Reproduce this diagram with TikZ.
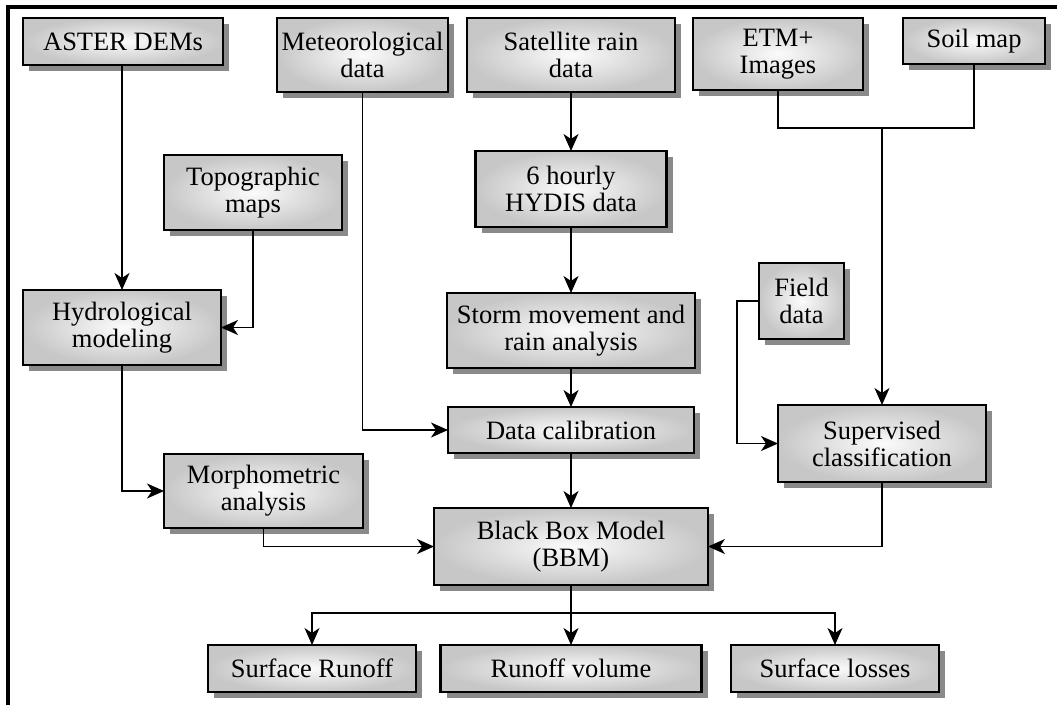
\documentclass[tikz,border=0pt]{standalone}
\usepackage{fontspec}
\setmainfont{Liberation Serif}
\usetikzlibrary{arrows.meta,shadows}

\tikzset{
	block/.style={draw, line width=2.4pt, inner sep=0pt, outer sep=0pt, align=center,
		inner color=white!97!gray, outer color=black!22,
		drop shadow={shadow xshift=6pt, shadow yshift=-6pt, fill=black!65, opacity=0.7},
		font=\fontsize{26.5}{27}\selectfont},
	arr/.style={line width=1.9pt, -{Stealth[length=17pt, width=15pt, inset=5pt]}},
	link/.style={line width=1.9pt}
}

\begin{document}
\begin{tikzpicture}[x=1pt, y=-1pt]
	\useasboundingbox (0,0) rectangle (1057,705);
	\fill[white] (0,0) rectangle (1057,705);
	\draw[line width=4pt] (8,705) -- (8,7) -- (1057,7);
	\begin{scope} [every node/.style={block}]
		\node[minimum width=200pt, minimum height=47pt] (aster) at (123,41.5){ASTER DEMs};
		\node[minimum width=171pt, minimum height=74pt] (meteo) at (362.5,55){Meteorological\\data};
		\node[minimum width=208pt, minimum height=74pt] (satrain) at (571,55){Satellite rain\\data};
		\node[minimum width=170pt, minimum height=72pt] (etm) at (778,54){ETM+\\Images};
		\node[minimum width=142pt, minimum height=46pt] (soil) at (974,41){Soil map};
		\node[minimum width=178pt, minimum height=75pt] (topo) at (253,192.5){Topographic\\maps};
		\node[minimum width=191pt, minimum height=76pt] (hydis) at (571,189){6 hourly\\HYDIS data};
		\node[minimum width=198pt, minimum height=75pt] (hydro) at (122,327.5){Hydrological\\modeling};
		\node[minimum width=248pt, minimum height=75pt] (storm) at (571,330.5){Storm movement and\\rain analysis};
		\node[minimum width=85pt, minimum height=76pt] (field) at (801.5,301){Field\\data};
		\node[minimum width=246pt, minimum height=46pt] (calib) at (571,430){Data calibration};
		\node[minimum width=208pt, minimum height=77pt] (superv) at (882,443.5){Supervised\\classification};
		\node[minimum width=199pt, minimum height=74pt] (morph) at (263.5,491){Morphometric\\analysis};
		\node[minimum width=274pt, minimum height=77pt] (bbm) at (571,546.5){Black Box Model\\(BBM)};
		\node[minimum width=208pt, minimum height=47pt] (runoff) at (312,668.5){Surface Runoff};
		\node[minimum width=261pt, minimum height=47pt] (volume) at (571,668.5){Runoff volume};
		\node[minimum width=208pt, minimum height=47pt] (losses) at (835,668.5){Surface losses};
	\end{scope}
	\coordinate (merge) at (882,128);
	\coordinate (split) at (571,613);
	% left branch
	\draw[arr] (aster.south -| hydro) -- (hydro.north);
	\draw[arr] (topo.south) |- (hydro.east);
	\draw[arr] (hydro.south) |- (morph.west);
	\draw[arr] (morph.south) |- (bbm.west);
	\draw[arr] (meteo.south) |- (calib.west);
	% rain branch
	\draw[arr] (satrain) -- (hydis);
	\draw[arr] (hydis) -- (storm);
	\draw[arr] (storm) -- (calib);
	\draw[arr] (calib) -- (bbm);
	% image branch
	\draw[link] (etm.south) |- (merge) -| (soil.south);
	\draw[arr] (merge) -- (superv.north);
	\draw[arr] (field.west) -- ++(-22,0) |- (superv.west);
	\draw[arr] (superv.south) |- (bbm.east);
	% outputs
	\draw[arr] (bbm) -- (volume);
	\draw[arr] (split) -| (runoff.north);
	\draw[arr] (split) -| (losses.north);
\end{tikzpicture}
\end{document}
